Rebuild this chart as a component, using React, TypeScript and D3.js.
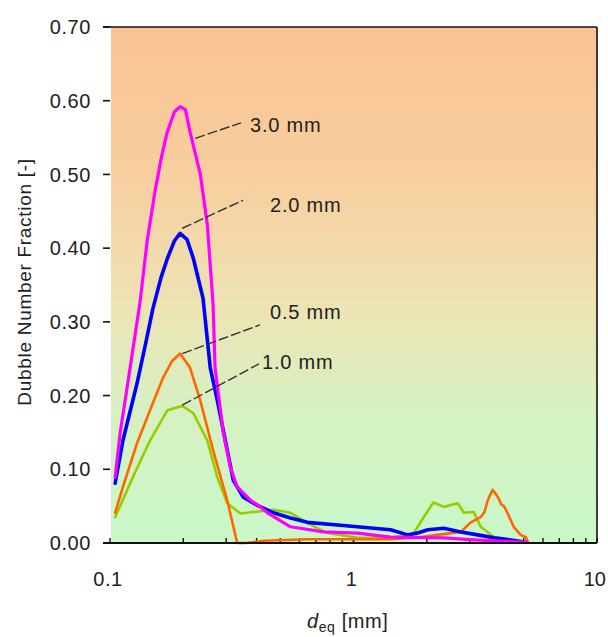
import React from "react";
import * as d3 from "d3";

// ---------- data ----------
const xTickValues = [0.1, 1, 10];
const xTickLabels = ["0.1", "1", "10"];
const yTickValues = [0, 0.1, 0.2, 0.3, 0.4, 0.5, 0.6, 0.7];
const yTickLabels = ["0.00", "0.10", "0.20", "0.30", "0.40", "0.50", "0.60", "0.70"];

const d30X = [0.105, 0.110, 0.121, 0.133, 0.142, 0.153, 0.163, 0.172, 0.184, 0.194, 0.204, 0.213, 0.235, 0.251, 0.265, 0.270, 0.292, 0.312, 0.333, 0.377, 0.414, 0.443, 0.551, 0.753, 1.04, 1.42, 2.35, 3.24, 4.43, 5.2];
const d30Y = [0.089, 0.149, 0.238, 0.328, 0.409, 0.477, 0.525, 0.558, 0.585, 0.592, 0.588, 0.558, 0.500, 0.432, 0.324, 0.238, 0.149, 0.103, 0.076, 0.058, 0.049, 0.041, 0.022, 0.015, 0.0135, 0.008, 0.007, 0.004, 0.002, 0.001];

const d20X = [0.105, 0.113, 0.129, 0.140, 0.150, 0.162, 0.172, 0.184, 0.194, 0.207, 0.220, 0.241, 0.258, 0.276, 0.303, 0.321, 0.353, 0.403, 0.469, 0.551, 0.647, 0.885, 1.21, 1.42, 1.67, 1.85, 2.02, 2.35, 2.76, 3.24, 3.77, 4.43, 5.1];
const d20Y = [0.081, 0.139, 0.216, 0.270, 0.318, 0.360, 0.386, 0.410, 0.420, 0.412, 0.386, 0.332, 0.238, 0.193, 0.126, 0.085, 0.062, 0.051, 0.041, 0.034, 0.028, 0.024, 0.020, 0.018, 0.011, 0.014, 0.018, 0.020, 0.015, 0.011, 0.007, 0.004, 0.001];

const d05X = [0.105, 0.113, 0.129, 0.146, 0.165, 0.180, 0.194, 0.213, 0.235, 0.265, 0.303, 0.333, 0.36, 0.43, 0.647, 0.885, 1.42, 1.9, 2.2, 2.76, 3.03, 3.33, 3.45, 3.56, 3.65, 3.73, 3.85, 3.95, 4.05, 4.15, 4.30, 4.55, 4.86, 5.1, 5.2];
const d05Y = [0.041, 0.076, 0.135, 0.180, 0.224, 0.247, 0.257, 0.238, 0.193, 0.126, 0.058, 0.0, 0.0, 0.003, 0.005, 0.005, 0.005, 0.008, 0.011, 0.015, 0.028, 0.035, 0.042, 0.058, 0.066, 0.072, 0.066, 0.060, 0.052, 0.050, 0.040, 0.022, 0.011, 0.008, 0.001];

const d10X = [0.105, 0.124, 0.146, 0.172, 0.198, 0.220, 0.251, 0.276, 0.303, 0.343, 0.388, 0.469, 0.551, 0.647, 0.782, 1.04, 1.42, 1.77, 1.94, 2.13, 2.35, 2.68, 2.84, 3.12, 3.33, 3.77, 4.43, 5.1];
const d10Y = [0.035, 0.089, 0.139, 0.180, 0.186, 0.176, 0.139, 0.089, 0.054, 0.040, 0.042, 0.045, 0.041, 0.027, 0.0135, 0.007, 0.007, 0.0135, 0.035, 0.055, 0.049, 0.054, 0.041, 0.042, 0.022, 0.008, 0.004, 0.001];

const seriesNames = ["1.0 mm", "0.5 mm", "2.0 mm", "3.0 mm"];
const seriesColors = ["#99cc00", "#ff6600", "#0000ff", "#ff00ff"];
const seriesWidths = [2.6, 2.6, 3.6, 3.2];
const seriesXs = [d10X, d05X, d20X, d30X];
const seriesYs = [d10Y, d05Y, d20Y, d30Y];

// annotation leader lines (data coordinates)
const annFrom = [[0.198, 0.187], [0.198, 0.257], [0.198, 0.427], [0.224, 0.549]];
const annTo = [[0.409, 0.243], [0.413, 0.296], [0.352, 0.465], [0.345, 0.570]];
const annText = [[0.421, 0.246], [0.454, 0.313], [0.454, 0.459], [0.376, 0.567]];

export default function App() {
  const W = 608, H = 637;
  const x = d3.scaleLog().domain([0.1, 10]).range([110, 597]);
  const y = d3.scaleLinear().domain([0, 0.7]).range([543, 27]);
  const line = d3.line<[number, number]>()
    .x((d) => x(d[0]))
    .y((d) => y(d[1]))
    .curve(d3.curveLinear);

  const minor: number[] = [];
  [0.1, 1].forEach((dec) => {
    for (let k = 1; k <= 10; k++) minor.push(dec * k);
  });

  const font = "'Liberation Sans', Arial, sans-serif";
  const textColor = "#222";

  return (
    <svg width={W} height={H} style={{ position: "fixed", left: 0, top: 0, background: "#fff" }}>
      <defs>
        <linearGradient id="bg" x1="0" y1="0" x2="0" y2="1">
          <stop offset="0%" stopColor="#f9c394" />
          <stop offset="30%" stopColor="#f8cfa0" />
          <stop offset="55%" stopColor="#ede4b4" />
          <stop offset="75%" stopColor="#d6f1c2" />
          <stop offset="100%" stopColor="#c9f8c9" />
        </linearGradient>
      </defs>
      <rect x={x(0.1) + 1} y={y(0.7)} width={x(10) - x(0.1) - 1} height={y(0) - y(0.7)} fill="url(#bg)" />

      {/* frame */}
      <line x1={103} x2={x(10)} y1={y(0.7)} y2={y(0.7)} stroke="#111" strokeWidth={1.6} />
      <line x1={x(10)} x2={x(10)} y1={y(0.7)} y2={y(0)} stroke="#111" strokeWidth={1.6} />

      {/* y ticks */}
      {yTickValues.map((v, i) => (
        <g key={"yt" + i}>
          <line x1={103} x2={110} y1={y(v)} y2={y(v)} stroke="#111" strokeWidth={1.6} />
          <text x={91} y={y(v)} dy="0.36em" textAnchor="end" fontFamily={font} fontSize={20} fill={textColor} letterSpacing={0.6}>
            {yTickLabels[i]}
          </text>
        </g>
      ))}

      {/* x minor ticks */}
      {minor.map((v, i) => (
        <line key={"xm" + i} x1={x(v)} x2={x(v)} y1={y(0)} y2={y(0) - 5} stroke="#111" strokeWidth={1.4} />
      ))}
      {xTickValues.map((v, i) => (
        <text key={"xt" + i} x={i === 2 ? W - 2 : x(v) - 2} y={586} textAnchor={i === 2 ? "end" : "middle"} fontFamily={font} fontSize={20} fill={textColor} letterSpacing={i === 2 ? 0 : 0.6}>
          {xTickLabels[i]}
        </text>
      ))}

      {/* series */}
      {seriesNames.map((name, i) => {
        const pts = seriesXs[i].map((xv, j) => [xv, seriesYs[i][j]] as [number, number]);
        return (
          <path key={name} d={line(pts) || ""} fill="none" stroke={seriesColors[i]} strokeWidth={seriesWidths[i]} strokeLinejoin="round" strokeLinecap="round" />
        );
      })}

      {/* x axis line */}
      <line x1={103} x2={x(10)} y1={y(0)} y2={y(0)} stroke="#111" strokeWidth={2} />

      {/* annotations */}
      {seriesNames.map((name, i) => (
        <g key={"an" + i}>
          <line x1={x(annFrom[i][0])} y1={y(annFrom[i][1])} x2={x(annTo[i][0])} y2={y(annTo[i][1])} stroke="#333" strokeWidth={1.4} strokeDasharray="10,3" />
          <text x={x(annText[i][0])} y={y(annText[i][1])} dy="0.36em" fontFamily={font} fontSize={20} fill={textColor} letterSpacing={0.8}>
            {name}
          </text>
        </g>
      ))}

      {/* axis titles */}
      <text transform={`translate(31,${282}) rotate(-90)`} textAnchor="middle" fontFamily={font} fontSize={19} fill={textColor} letterSpacing={0.7}>
        Dubble Number Fraction [-]
      </text>
      <text x={307} y={628} fontFamily={font} fontSize={20} fill={textColor} letterSpacing={0.6}>
        <tspan fontStyle="italic">d</tspan>
        <tspan fontSize={14} dy={4}>eq</tspan>
        <tspan dy={-4}> [mm]</tspan>
      </text>
    </svg>
  );
}
